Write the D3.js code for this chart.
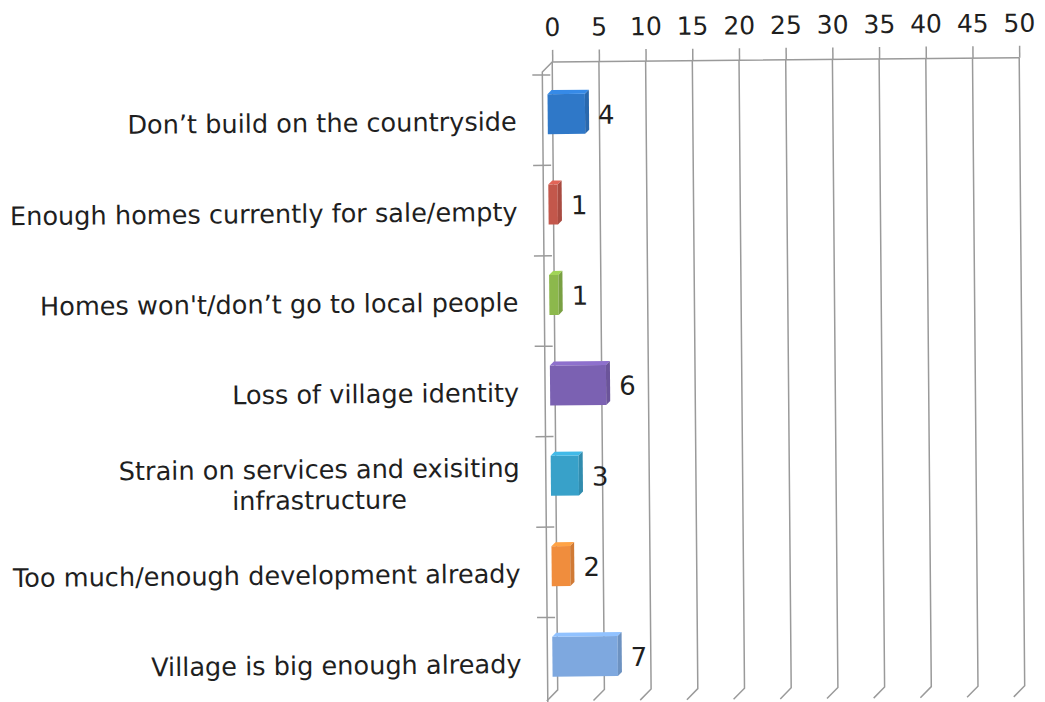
<!DOCTYPE html>
<html>
<head>
<meta charset="utf-8">
<script src="https://cdn.jsdelivr.net/npm/d3@7"></script>
<style>
  body { margin: 0; background: #fff; }
  text { font-family: "DejaVu Sans", Verdana, sans-serif; fill: #1f1f1f; }
</style>
</head>
<body>
<div id="chart"></div>
<script>
// datos del gráfico
var categories = [
  "Don’t build on the countryside",
  "Enough homes currently for sale/empty",
  "Homes won't/don’t go to local people",
  "Loss of village identity",
  "Strain on services and exisiting\ninfrastructure",
  "Too much/enough development already",
  "Village is big enough already"
];
var values = [4, 1, 1, 6, 3, 2, 7];
var barColors = ["#2f78c8", "#c3574b", "#8cb84c", "#7b61b2", "#38a1c9", "#f08d3d", "#7ea8df"];
var tickValues = [0, 5, 10, 15, 20, 25, 30, 35, 40, 45, 50];

var width = 1045, height = 702;
var depth = 10;      // profundidad de las paredes 3D
var barDepth = 4;    // profundidad de cada barra
var gridColor = "#9a9a9a";

var svg = d3.select("#chart").append("svg")
  .attr("width", width)
  .attr("height", height);

// el escaneo original está un poco girado
var g = svg.append("g").attr("transform", "rotate(-0.5,540,380)");

// escalas: x sobre la pared del fondo, y sobre el plano frontal
var x = d3.scaleLinear().domain([0, 50]).range([555, 1022]);
var y = d3.scaleBand().domain(categories).range([72, 705]);
var wallTop = 62;
var floorY = 690;

// eje superior con las etiquetas
var axis = g.append("g")
  .attr("transform", "translate(0," + wallTop + ")")
  .call(d3.axisTop(x).tickValues(tickValues).tickSize(12).tickPadding(14));
axis.select(".domain").remove();
axis.selectAll(".tick line").attr("stroke", gridColor).attr("stroke-width", 1.5);
axis.selectAll(".tick text")
  .style("font-size", "25px")
  .attr("fill", "#1f1f1f");

// líneas de la cuadrícula (pared del fondo + suelo)
g.append("g").selectAll("path")
  .data(tickValues)
  .enter()
  .append("path")
  .attr("d", function(d) {
    return "M" + x(d) + "," + wallTop + "V" + floorY +
      "L" + (x(d) - depth - 1) + "," + (floorY + depth + 1);
  })
  .attr("fill", "none")
  .attr("stroke", gridColor)
  .attr("stroke-width", 1.5);

// borde superior de la pared y eje frontal
g.append("path")
  .attr("d", "M" + x(50) + "," + wallTop + "H" + x(0) +
    "L" + (x(0) - depth) + "," + (wallTop + depth) + "V" + 705)
  .attr("fill", "none")
  .attr("stroke", gridColor)
  .attr("stroke-width", 1.5);

// marcas de categoría en el eje frontal
g.append("g").selectAll("line")
  .data(categories)
  .enter()
  .append("line")
  .attr("x1", x(0) - depth - 10)
  .attr("x2", x(0) - depth + 8)
  .attr("y1", function(d) { return y(d) + 3; })
  .attr("y2", function(d) { return y(d) + 3; })
  .attr("stroke", gridColor)
  .attr("stroke-width", 1.5);

// barras 3D
var x0 = x(0) - depth + 5;
var bh = 40;
var bars = g.append("g").selectAll("g")
  .data(categories)
  .enter()
  .append("g");

function cy(d) { return y(d) + y.bandwidth() / 2 - 3; }
function x1(d, i) { return x0 + x(values[i]) - x(0); }

bars.append("rect")
  .attr("x", x0)
  .attr("y", function(d) { return cy(d) - bh / 2; })
  .attr("width", function(d, i) { return x1(d, i) - x0; })
  .attr("height", bh)
  .attr("fill", function(d, i) { return barColors[i]; });

// cara superior
bars.append("path")
  .attr("d", function(d, i) {
    var t = cy(d) - bh / 2, r = x1(d, i);
    return "M" + x0 + "," + t + "L" + r + "," + t + "L" + (r + barDepth) + "," + (t - barDepth) +
      "L" + (x0 + barDepth) + "," + (t - barDepth) + "Z";
  })
  .attr("fill", function(d, i) { return d3.color(barColors[i]).brighter(0.4); });

// cara lateral
bars.append("path")
  .attr("d", function(d, i) {
    var t = cy(d) - bh / 2, b = cy(d) + bh / 2, r = x1(d, i);
    return "M" + r + "," + t + "L" + (r + barDepth) + "," + (t - barDepth) +
      "L" + (r + barDepth) + "," + (b - barDepth) + "L" + r + "," + b + "Z";
  })
  .attr("fill", function(d, i) { return d3.color(barColors[i]).darker(0.4); });

// etiquetas de valor
bars.append("text")
  .attr("x", function(d, i) { return x1(d, i) + barDepth + 9; })
  .attr("y", function(d) { return cy(d) + 1; })
  .attr("dominant-baseline", "central")
  .style("font-size", "26px")
  .text(function(d, i) { return values[i]; });

// etiquetas de categoría
var labelRight = 519;
var labels = g.append("g").selectAll("text")
  .data(categories)
  .enter()
  .append("text")
  .attr("y", function(d) { return y(d) + y.bandwidth() / 2 + 4; })
  .style("font-size", "25.6px")
  .attr("dominant-baseline", "central");

labels.each(function(d) {
  var lines = d.split("\n");
  var t = d3.select(this);
  if (lines.length === 1) {
    t.attr("x", labelRight).attr("text-anchor", "end").text(d);
  } else {
    // medir la primera línea para centrar el bloque
    t.text(lines[0]);
    var w = this.getComputedTextLength();
    t.text(null).attr("text-anchor", "middle");
    var mid = labelRight - w / 2;
    lines.forEach(function(line, k) {
      t.append("tspan")
        .attr("x", mid)
        .attr("dy", k === 0 ? "-0.6em" : "1.2em")
        .text(line);
    });
  }
});
</script>
</body>
</html>
